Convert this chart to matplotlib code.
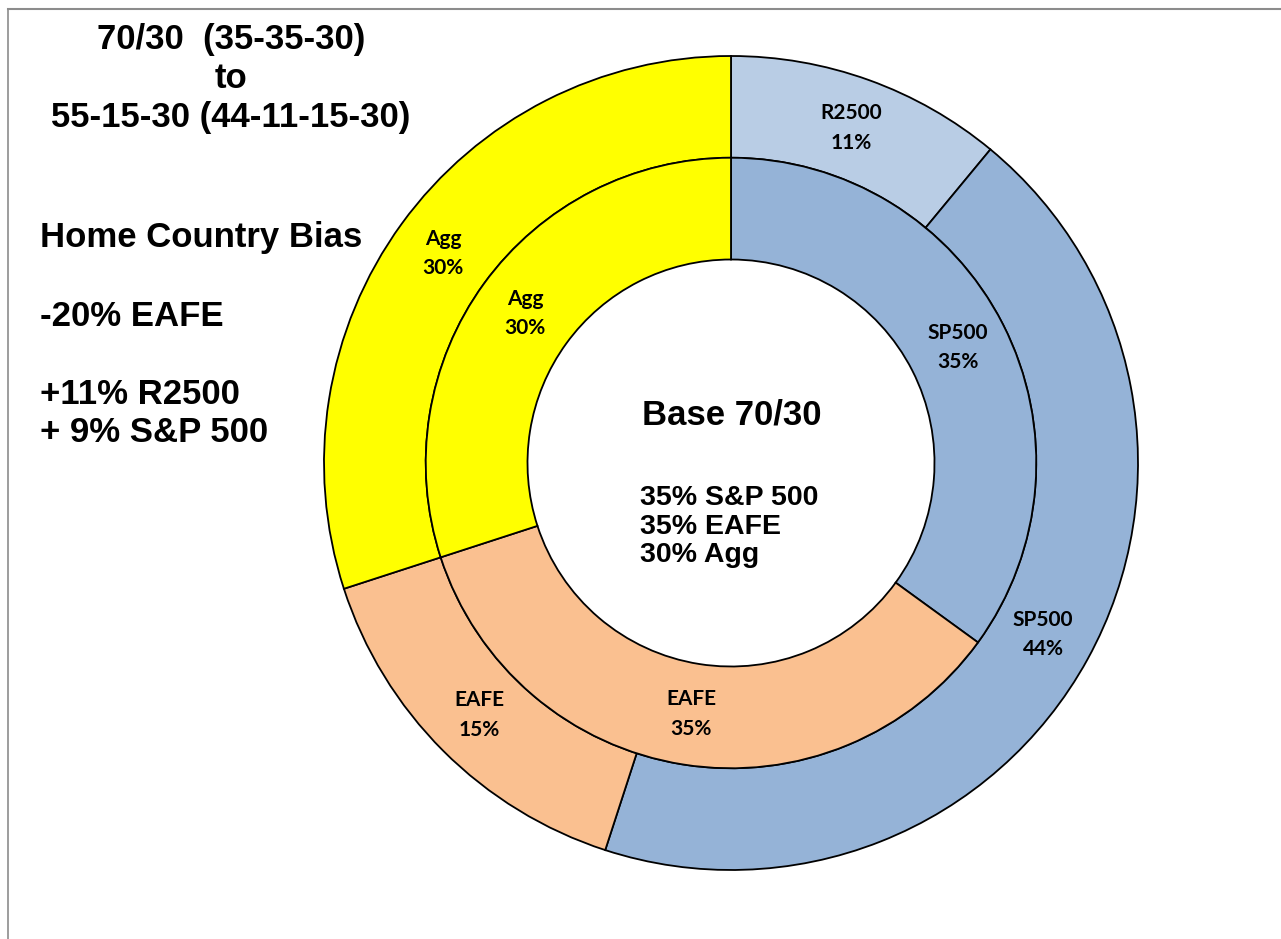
import matplotlib
matplotlib.use("Agg")
import matplotlib.pyplot as plt
import numpy as np

# ---- data ----
outer_labels = ["R2500", "SP500", "EAFE", "Agg"]
outer_values = [11, 44, 15, 30]
outer_colors = ["#B9CDE5", "#95B3D7", "#FAC090", "#FFFF00"]

inner_labels = ["SP500", "EAFE", "Agg"]
inner_values = [35, 35, 30]
inner_colors = ["#95B3D7", "#FAC090", "#FFFF00"]

title_lines = ["70/30  (35-35-30)", "to", "55-15-30 (44-11-15-30)"]
note_lines = ["Home Country Bias", "-20% EAFE", "+11% R2500", "+ 9% S&P 500"]
center_title = "Base 70/30"
center_lines = ["35% S&P 500", "35% EAFE", "30% Agg"]

W, H = 1281, 939
fig = plt.figure(figsize=(W / 100, H / 100), dpi=100)
ax = fig.add_axes([0, 0, 1, 1])

cx, cy = 731, H - 463
R = 407
width = 0.25 * R

wedge_kw = dict(edgecolor="black", linewidth=1.3)
w_out, _ = ax.pie(outer_values, radius=R, colors=outer_colors, startangle=90,
                  counterclock=False, center=(cx, cy),
                  wedgeprops=dict(width=width, **wedge_kw))
w_in, _ = ax.pie(inner_values, radius=R - width, colors=inner_colors, startangle=90,
                 counterclock=False, center=(cx, cy),
                 wedgeprops=dict(width=width, **wedge_kw))

ax.set_xlim(0, W)
ax.set_ylim(0, H)
ax.set_aspect("equal", adjustable="datalim")
ax.axis("off")

lab_font = dict(family=["Lato", "DejaVu Sans"], fontweight="bold", fontsize=15,
                ha="center", va="center", linespacing=1.6)

def label_ring(wedges, labels, values, rmid):
    for w, lab, v in zip(wedges, labels, values):
        ang = np.deg2rad((w.theta1 + w.theta2) / 2)
        x = cx + rmid * np.cos(ang)
        y = cy + rmid * np.sin(ang)
        ax.text(x, y, f"{lab}\n{v}%", **lab_font)

label_ring(w_out, outer_labels, outer_values, R - width / 2)
label_ring(w_in, inner_labels, inner_values, R - 1.5 * width)

big = dict(family=["Liberation Sans", "DejaVu Sans"], fontweight="bold", fontsize=25)

for t, y in zip(title_lines, [40, 78, 117]):
    ax.text(231, H - y, t, ha="center", va="center", **big)

for t, y in zip(note_lines, [237, 316, 394, 433]):
    ax.text(40, H - y, t, ha="left", va="center", **big)

ax.text(732, H - 415, center_title, ha="center", va="center", **big)
mid = dict(family=["Liberation Sans", "DejaVu Sans"], fontweight="bold", fontsize=20.5)
for t, y in zip(center_lines, [498, 527, 555]):
    ax.text(640, H - y, t, ha="left", va="center", **mid)

# outer frame (left and top edges)
fig.add_artist(plt.Line2D([7.5 / W, 7.5 / W], [0, 1 - 8.5 / H], transform=fig.transFigure,
                          color="#8c8c8c", linewidth=1.2))
fig.add_artist(plt.Line2D([7.5 / W, 1], [1 - 8.5 / H, 1 - 8.5 / H], transform=fig.transFigure,
                          color="#8c8c8c", linewidth=1.5))

fig.savefig("out.png", dpi=100, facecolor="white")
